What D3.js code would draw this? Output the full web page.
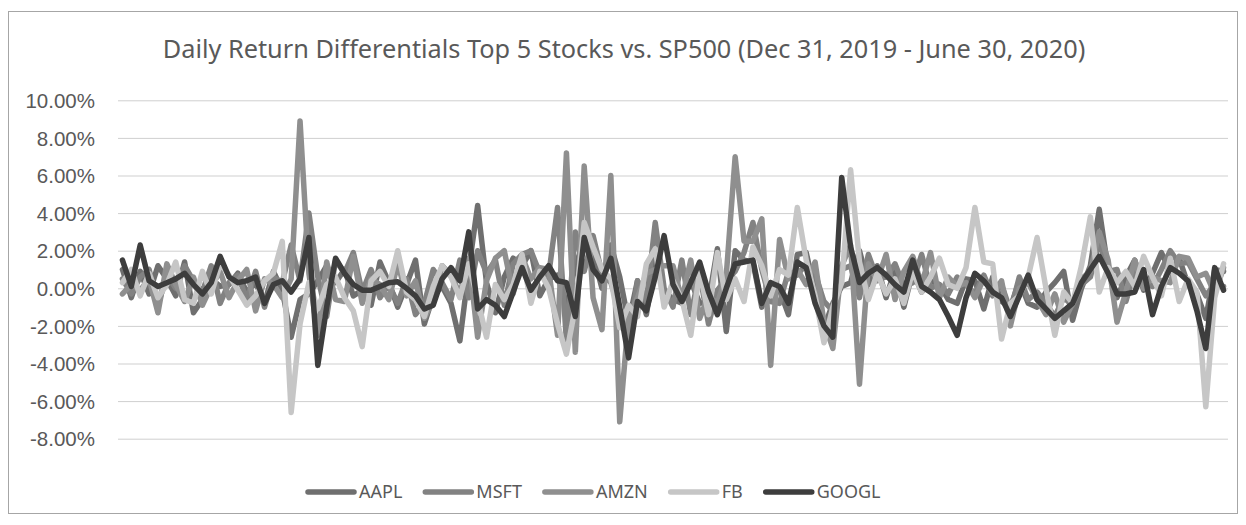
<!DOCTYPE html>
<html>
<head>
<meta charset="utf-8">
<title>Daily Return Differentials</title>
<script src="https://cdn.jsdelivr.net/npm/d3@7"></script>
<style>
  body { margin: 0; background: #ffffff; }
  svg { display: block; font-family: "Noto Sans", "Open Sans", sans-serif; }
  .chart-title { fill: #595959; font-size: 25.3px; }
  .axis-label text { fill: #595959; font-size: 20.5px; }
  .legend-label { fill: #595959; font-size: 18px; }
</style>
</head>
<body>
<div id="chart"></div>
<script>
// Daily return differential (stock minus SP500), in percent, one value per trading day.
const seriesNames = ["AAPL", "MSFT", "AMZN", "FB", "GOOGL"];
const seriesColors = ["#6f6f6f", "#828282", "#8f8f8f", "#c6c6c6", "#3d3d3d"];

const aapl = [
  1.0, -0.5, 0.9, -0.3, 1.2, 0.5, -0.4, 1.4, -1.3, -0.6,
  0.5, 0.1, 0.2, 0.8, -0.2, 0.3, -0.8, 0.9, -0.1, -2.6,
  -0.6, -0.3, 0.4, 1.2, 0.3, 1.0, -0.4, -0.1, -0.9, 1.4,
  0.3, -1.0, 0.2, 1.5, -1.9, -0.4, 0.1, -0.8, -2.8, 1.0,
  4.4, 0.3, -1.3, 0.6, 1.6, 1.2, 2.0, -0.4, 0.5, 0.7,
  -1.0, 1.2, 2.5, 1.8, 0.0, 2.3, 0.6, -1.8, 0.4, -1.4,
  1.5, -0.1, -0.6, -0.8, 0.4, -0.8, -0.7, 2.1, -2.3, 2.0,
  1.5, 1.4, -1.0, 0.3, -0.1, -1.4, 1.8, 1.9, -0.2, -2.1,
  -0.8, 0.1, 0.3, 2.0, 0.2, 1.2, -0.5, 1.0, -1.0, 0.9,
  -0.2, 0.4, 0.2, -0.6, -0.8, 0.5, 0.4, -1.1, 0.6, -0.7,
  -1.0, 0.4, -0.8, -1.0, -0.2, 0.3, 0.9, -1.7, 0.0, 1.2,
  4.2, 1.0, -0.5, 0.6, 1.5, -0.1, 0.8, 1.9, 0.9, 1.6,
  0.2, -0.3, -1.6, 1.0, 0.9
];

const msft = [
  0.5, -0.3, 0.6, 1.0, -0.9, 0.7, 0.0, 1.2, 0.4, -0.2,
  1.2, -0.8, 0.3, 0.7, -0.6, 0.9, -1.0, 0.6, 0.3, 2.3,
  0.4, 4.0, 0.6, -1.5, 1.5, 0.8, 1.9, -0.2, 1.0, -0.5,
  0.2, -0.8, 0.5, -1.4, -0.8, 1.0, 0.3, -0.6, 1.5, -0.5,
  2.0, 0.8, 1.5, -0.9, 1.3, 1.8, 2.0, 0.8, 0.7, 4.3,
  -2.8, 3.0, 0.9, 2.8, 0.8, 0.3, -1.2, -3.0, 0.4, -0.7,
  3.5, 0.0, -1.0, 1.5, -1.4, 0.8, -1.9, -0.1, 0.5, 0.9,
  1.9, 3.5, 1.0, -0.7, -0.8, 0.9, 0.7, 1.3, 0.8, -0.7,
  -1.2, 1.0, 1.2, -0.5, 1.8, 0.5, 0.6, 1.3, 0.1, 0.3,
  1.8, 0.0, 0.2, -0.3, 0.6, 0.2, -0.3, 0.7, -0.4, 0.2,
  -1.2, 0.6, -0.6, -0.2, -0.8, -1.5, -0.5, -0.9, 0.2, 0.6,
  2.5, 0.9, 1.0, -0.7, 0.9, 0.3, 0.1, 1.0, 2.0, 1.3,
  1.4, 0.5, -0.4, 0.2, 0.1
];

const amzn = [
  -0.3, 0.2, -0.1, 0.5, -1.3, 1.3, 0.2, -0.7, 0.6, -0.9,
  0.1, 0.9, -0.5, 0.4, 1.0, -1.2, 0.5, 0.2, -0.5, 0.5,
  8.9, 0.8, -2.5, 1.4, -0.6, -0.7, 1.7, -0.8, 0.5, 0.2,
  -0.6, 1.3, -0.4, 0.4, -1.6, -0.6, 1.2, 0.7, -0.3, 1.6,
  -2.6, 0.4, 1.6, 2.0, -0.3, 1.7, 0.5, 1.1, 1.0, -2.5,
  7.2, -3.4, 6.5, -0.5, -2.2, 6.0, -7.1, -1.5, -0.5, 0.8,
  1.0, 1.2, 1.2, -0.6, 1.5, -1.6, -0.4, -0.8, 0.7, 7.0,
  2.5, 2.5, 3.7, -4.1, 2.6, 0.5, 1.0, 0.2, 1.4, -1.8,
  -3.2, 1.2, 2.3, -5.1, 1.3, 0.4, 1.8, -0.6, 0.9, 1.7,
  0.2, 1.9, -0.5, 0.6, 0.1, 0.3, -0.5, 0.5, -0.3, 0.4,
  -2.0, 0.0, 0.3, -0.6, -1.4, -0.3, -1.8, -0.8, 0.5, 0.9,
  3.0, 1.5, -1.8, -0.2, 1.5, 0.0, 0.6, 0.4, 0.3, 1.7,
  1.6, 0.6, 0.8, -0.3, 1.1
];

const fb = [
  0.3, 1.0, -0.4, 0.8, -0.5, 0.2, 1.4, -0.6, -0.8, 0.9,
  -0.3, 1.3, 0.7, -0.1, -0.9, -0.4, 0.4, 0.8, 2.5, -6.6,
  -1.9, 0.3, -1.1, 0.2, 0.6, -0.5, -1.2, -3.1, 0.4, 0.9,
  0.1, 2.0, -0.2, -0.6, -1.5, 0.1, 1.2, 0.6, -0.5, 1.3,
  -0.6, -2.6, 0.2, -0.6, 0.2, 1.8, -0.8, 0.9, 0.0, -1.9,
  -3.5, -1.0, 3.5, 2.2, 1.0, 0.5, -2.1, -0.9, -1.5, 1.3,
  2.1, -1.0, 0.4, -0.6, -2.5, 0.9, -1.4, 1.9, -0.6, 0.5,
  -0.7, 2.2, 1.2, -0.4, 1.0, 0.7, 4.3, 1.5, -0.4, -2.9,
  -1.0, 0.3, 6.3, 1.4, -0.6, 0.8, -0.3, 0.5, -0.8, 0.9,
  -0.2, 0.6, 1.6, 0.2, 0.0, 1.1, 4.3, 1.4, 1.3, -2.7,
  -0.8, -0.4, 0.6, 2.7, 0.0, -2.5, -0.2, -0.8, 1.2, 3.8,
  -0.2, 1.1, 0.3, 0.9, 0.1, 1.7, 0.6, -0.4, 1.6, -0.7,
  0.5, -0.2, -6.3, -0.5, 1.3
];

const googl = [
  1.5, 0.1, 2.3, 0.4, 0.1, 0.3, 0.5, 0.8, 0.2, -0.3,
  0.3, 1.7, 0.6, 0.3, 0.4, 0.6, -0.8, 0.2, 0.4, -0.2,
  0.5, 2.7, -4.1, -1.0, 1.6, 0.8, 0.2, -0.1, -0.1, 0.1,
  0.3, 0.35, 0.0, -0.4, -1.1, -0.9, 0.5, 1.1, 0.4, 3.0,
  -1.1, -0.6, -0.9, -1.5, -0.2, 1.1, -0.1, 0.6, 1.2, 0.4,
  0.3, -1.5, 2.7, 1.0, 0.4, 1.6, -1.0, -3.7, -0.7, -1.2,
  0.6, 2.8, 0.2, -0.7, 0.3, 1.4, -0.2, -1.4, 0.0, 1.3,
  1.4, 1.5, -0.8, 0.3, 0.1, -0.8, 1.4, 1.1, -0.8, -2.0,
  -2.6, 5.9, 2.2, 0.3, 0.8, 1.1, 0.7, 0.2, -0.2, 1.5,
  0.1, -0.2, -0.6, -1.5, -2.5, -0.5, 0.8, 0.4, -0.2, -0.5,
  -1.5, -0.4, 0.7, -0.6, -1.1, -1.6, -1.2, -0.8, 0.3, 1.0,
  1.7, 0.8, -0.3, -0.3, -0.2, 1.0, -1.4, 0.1, 1.1, 0.8,
  0.4, -1.2, -3.2, 1.1, -0.1
];

const yTickValues = [-8, -6, -4, -2, 0, 2, 4, 6, 8, 10];

(function drawChart() {
  "use strict";

  const width = 1246;
  const height = 525;
  const plot = { left: 118, right: 1228, top: 100.3, bottom: 438.7 };
  const allSeries = [aapl, msft, amzn, fb, googl];

  const svg = d3.select("#chart")
    .append("svg")
    .attr("width", width)
    .attr("height", height);

  // Chart area outline.
  svg.append("rect")
    .attr("x", 8.5)
    .attr("y", 11.5)
    .attr("width", 1229)
    .attr("height", 502)
    .attr("fill", "#ffffff")
    .attr("stroke", "#a6a6a6");

  svg.append("text")
    .attr("class", "chart-title")
    .attr("x", 624)
    .attr("y", 58)
    .attr("text-anchor", "middle")
    .text("Daily Return Differentials Top 5 Stocks vs. SP500 (Dec 31, 2019 - June 30, 2020)");

  const xScale = d3.scalePoint()
    .domain(d3.range(googl.length))
    .range([plot.left, plot.right])
    .padding(0.5);

  const yScale = d3.scaleLinear()
    .domain([-8, 10])
    .range([plot.bottom, plot.top]);

  // Horizontal gridlines.
  svg.append("g")
    .attr("transform", "translate(" + plot.left + ",0)")
    .call(d3.axisLeft(yScale).tickValues(yTickValues).tickSize(-(plot.right - plot.left)).tickFormat(""))
    .call(function styleGrid(g) {
      g.select(".domain").remove();
      g.selectAll("line").attr("stroke", "#cfcfcf").attr("stroke-width", 1);
    });

  // Percent labels on the value axis.
  svg.append("g")
    .attr("class", "axis-label")
    .attr("transform", "translate(" + plot.left + ",0)")
    .call(d3.axisLeft(yScale).tickValues(yTickValues).tickSize(0).tickPadding(23)
      .tickFormat(function formatPercent(d) { return d.toFixed(2) + "%"; }))
    .call(function styleAxis(g) {
      g.select(".domain").remove();
      g.selectAll("text").attr("font-family", null).attr("font-size", null).attr("dy", "0.35em");
    });

  const line = d3.line()
    .x(function positionX(d, i) { return xScale(i); })
    .y(function positionY(d) { return yScale(d); });

  svg.append("g")
    .selectAll("path")
    .data(allSeries)
    .enter()
    .append("path")
    .attr("d", line)
    .attr("fill", "none")
    .attr("stroke", function seriesColor(d, i) { return seriesColors[i]; })
    .attr("stroke-width", 5.5)
    .attr("stroke-linejoin", "round")
    .attr("stroke-linecap", "round");

  // Legend, laid out left to right from measured label widths.
  const legend = svg.append("g").attr("transform", "translate(0,492)");
  let cursor = 306;
  seriesNames.forEach(function addLegendItem(name, i) {
    legend.append("line")
      .attr("x1", cursor + 2)
      .attr("x2", cursor + 48)
      .attr("y1", 0)
      .attr("y2", 0)
      .attr("stroke", seriesColors[i])
      .attr("stroke-width", 5.5)
      .attr("stroke-linecap", "round");
    const label = legend.append("text")
      .attr("class", "legend-label")
      .attr("x", cursor + 53)
      .attr("y", 0)
      .attr("dy", "0.35em")
      .text(name);
    cursor += 53 + label.node().getComputedTextLength() + 21;
  });
})();
</script>
</body>
</html>
